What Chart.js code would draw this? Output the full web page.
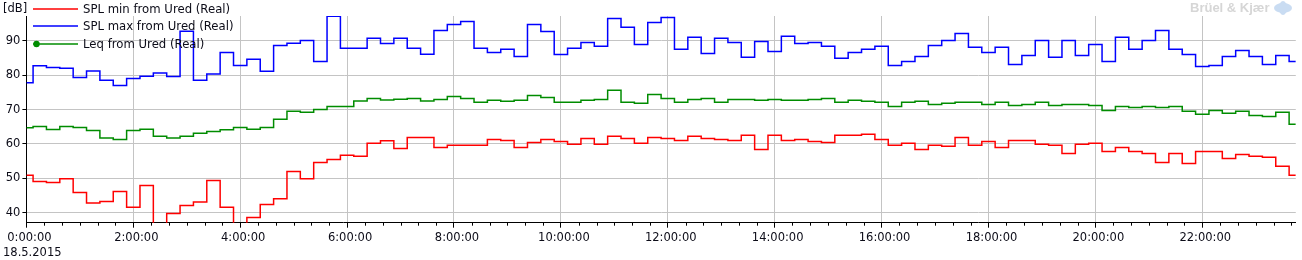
<!DOCTYPE html>
<html>
<head>
<meta charset="utf-8">
<script src="https://cdn.jsdelivr.net/npm/chart.js@4.4.1/dist/chart.umd.min.js"></script>
<style>
  html, body { margin: 0; padding: 0; background: #fff; }
  #wrap { width: 1302px; height: 260px; position: relative; }
</style>
</head>
<body>
<div id="wrap"><canvas id="splChart" width="1302" height="260"></canvas></div>
<script>
// one value every 15 minutes, 0:00 .. 23:45
const intervalMinutes = 15;
const dateLabel = '18.5.2015';
const unitLabel = '[dB]';
const seriesNames = ['SPL min from Ured (Real)', 'SPL max from Ured (Real)', 'Leq from Ured (Real)'];
const xTickLabels = ['0:00:00', '2:00:00', '4:00:00', '6:00:00', '8:00:00', '10:00:00',
  '12:00:00', '14:00:00', '16:00:00', '18:00:00', '20:00:00', '22:00:00'];
const yTicks = [40, 50, 60, 70, 80, 90];

const splMin = [
  50.9, 49.1, 48.8, 49.9, 45.9, 42.8, 43.3, 46.2, 41.6, 47.9, 35.0, 39.8, 42.1, 43.1, 49.4, 41.6,
  35.0, 38.6, 42.4, 44.1, 52.0, 49.9, 54.6, 55.5, 56.7, 56.4, 60.2, 60.9, 58.7, 61.9, 61.9, 59.0,
  59.6, 59.6, 59.6, 61.3, 61.0, 59.0, 60.4, 61.3, 60.7, 59.9, 61.6, 59.9, 62.2, 61.6, 60.2, 61.9,
  61.6, 61.0, 62.2, 61.6, 61.3, 61.0, 62.5, 58.4, 62.5, 61.0, 61.3, 60.7, 60.4, 62.5, 62.5, 62.8,
  61.3, 59.6, 60.2, 58.4, 59.6, 59.3, 61.9, 59.6, 60.7, 59.0, 61.0, 61.0, 59.9, 59.6, 57.2, 59.9,
  60.2, 57.8, 59.0, 57.8, 57.2, 54.6, 57.2, 54.3, 57.8, 57.8, 55.8, 56.9, 56.4, 56.1, 53.5, 50.9
];
const splMax = [
  77.8, 82.7, 82.2, 82.0, 79.3, 81.2, 78.5, 77.0, 79.0, 79.7, 80.6, 79.6, 92.8, 78.5, 80.3, 86.6,
  82.8, 84.6, 81.1, 88.6, 89.3, 90.1, 84.0, 97.1, 87.8, 87.8, 90.7, 89.2, 90.7, 87.8, 86.1, 93.0,
  94.7, 95.6, 87.8, 86.6, 87.5, 85.4, 94.7, 92.7, 86.0, 87.8, 89.5, 88.4, 96.5, 93.9, 88.9, 95.3,
  96.8, 87.5, 91.0, 86.3, 90.7, 89.5, 85.2, 89.8, 86.9, 91.3, 89.2, 89.5, 88.4, 84.9, 86.6, 87.5,
  88.4, 82.8, 84.0, 85.4, 88.6, 90.1, 92.1, 88.1, 86.6, 88.1, 83.1, 85.7, 90.1, 85.2, 90.1, 85.7,
  88.9, 84.0, 91.0, 87.5, 90.1, 93.0, 87.5, 86.0, 82.5, 82.8, 85.4, 87.2, 85.4, 83.1, 85.7, 84.0
];
const leq = [
  64.7, 65.1, 64.2, 65.1, 64.8, 63.9, 61.7, 61.3, 63.9, 64.3, 62.2, 61.7, 62.2, 63.1, 63.6, 64.1,
  64.8, 64.3, 64.8, 67.2, 69.5, 69.2, 70.0, 70.9, 70.9, 72.5, 73.2, 72.8, 73.0, 73.2, 72.5, 72.9,
  73.8, 73.2, 72.1, 72.7, 72.4, 72.7, 74.1, 73.5, 72.1, 72.1, 72.7, 72.9, 75.6, 72.1, 71.8, 74.4,
  73.2, 72.1, 72.9, 73.2, 72.1, 72.9, 72.9, 72.7, 72.9, 72.7, 72.7, 72.9, 73.2, 72.1, 72.7, 72.4,
  72.1, 70.9, 72.1, 72.4, 71.5, 71.8, 72.1, 72.1, 71.5, 72.1, 71.2, 71.5, 72.1, 71.2, 71.5, 71.5,
  71.2, 69.7, 70.9, 70.6, 70.9, 70.6, 70.9, 69.5, 68.6, 69.7, 68.9, 69.5, 68.3, 68.0, 69.2, 65.7
];

const colors = ['#ff0000', '#0000ff', '#008c00'];
const fontFamily = '"DejaVu Sans", Verdana, sans-serif';
const textColor = '#0c0c18';

function toPoints(values) {
  return values.map((v, i) => ({ x: i * intervalMinutes, y: v }));
}

// legend, unit, date, minor ticks and the logo are painted on top
const overlay = {
  id: 'overlay',
  afterDraw(chart) {
    const ctx = chart.ctx;
    const xs = chart.scales.x;
    const area = chart.chartArea;
    ctx.save();

    // minor ticks every 20 minutes
    ctx.strokeStyle = '#000';
    ctx.lineWidth = 1;
    ctx.beginPath();
    for (let m = 20; m <= xs.max; m += 20) {
      if (m % 120 === 0) continue;
      const px = Math.round(xs.getPixelForValue(m)) + 0.5;
      ctx.moveTo(px, area.bottom);
      ctx.lineTo(px, area.bottom + 3);
    }
    ctx.stroke();

    ctx.font = '11.5px ' + fontFamily;
    ctx.fillStyle = textColor;
    ctx.textBaseline = 'middle';
    ctx.textAlign = 'left';
    ctx.fillText(unitLabel, 3, 9);
    ctx.fillText(dateLabel, 3, 253);

    // legend
    ctx.font = '11.7px ' + fontFamily;
    const rows = [9, 26, 44];
    seriesNames.forEach((name, i) => {
      ctx.strokeStyle = colors[i];
      ctx.lineWidth = 1.5;
      ctx.beginPath();
      ctx.moveTo(33, rows[i]);
      ctx.lineTo(78, rows[i]);
      ctx.stroke();
      if (i === 2) {
        ctx.fillStyle = colors[i];
        ctx.beginPath();
        ctx.arc(36.5, rows[i], 3.2, 0, Math.PI * 2);
        ctx.fill();
      }
      ctx.fillStyle = textColor;
      ctx.fillText(name, 83, rows[i] + 0.5);
    });

    // logo
    ctx.font = 'bold 13px "Liberation Sans", Arial, sans-serif';
    ctx.fillStyle = '#d6d6d6';
    ctx.fillText('Brüel & Kjær', 1190, 8);
    ctx.fillStyle = '#c9dcf2';
    ctx.beginPath();
    ctx.ellipse(1283, 8, 9, 5, 0, 0, Math.PI * 2);
    ctx.fill();
    ctx.beginPath();
    ctx.ellipse(1283, 8, 4, 7, 0, 0, Math.PI * 2);
    ctx.fill();

    ctx.restore();
  }
};

const ctx = document.getElementById('splChart').getContext('2d');
new Chart(ctx, {
  type: 'line',
  data: {
    datasets: [
      { label: seriesNames[0], data: toPoints(splMin), borderColor: colors[0] },
      { label: seriesNames[1], data: toPoints(splMax), borderColor: colors[1] },
      { label: seriesNames[2], data: toPoints(leq), borderColor: colors[2] }
    ]
  },
  options: {
    responsive: false,
    animation: false,
    layout: { padding: { top: 16, right: 6.2, left: 0, bottom: 0 } },
    plugins: { legend: { display: false }, tooltip: { enabled: false } },
    elements: {
      point: { radius: 0 },
      line: { borderWidth: 1.5, stepped: 'middle', fill: false }
    },
    scales: {
      x: {
        type: 'linear',
        min: 0,
        max: 95 * intervalMinutes,
        border: { color: '#000', width: 1 },
        grid: { color: '#c4c4c4', tickColor: '#000', tickLength: 5 },
        afterBuildTicks: s => { s.ticks = xTickLabels.map((_, i) => ({ value: i * 120 })); },
        ticks: {
          autoSkip: false,
          maxRotation: 0,
          padding: 3,
          labelOffset: 3,
          color: textColor,
          font: { family: fontFamily, size: 11.5 },
          callback: v => xTickLabels[Math.round(v / 120)]
        },
        afterFit: s => { s.height = 37.3; s.paddingLeft = 0; s.paddingRight = 0; }
      },
      y: {
        min: 37.1,
        max: 97.2,
        border: { color: '#000', width: 1 },
        grid: { color: '#c4c4c4', tickColor: '#000', tickLength: 4 },
        afterBuildTicks: s => { s.ticks = yTicks.map(v => ({ value: v })); },
        ticks: {
          padding: 2,
          color: textColor,
          font: { family: fontFamily, size: 11.5 }
        },
        afterFit: s => { s.width = 26.4; }
      }
    }
  },
  plugins: [overlay]
});
</script>
</body>
</html>
